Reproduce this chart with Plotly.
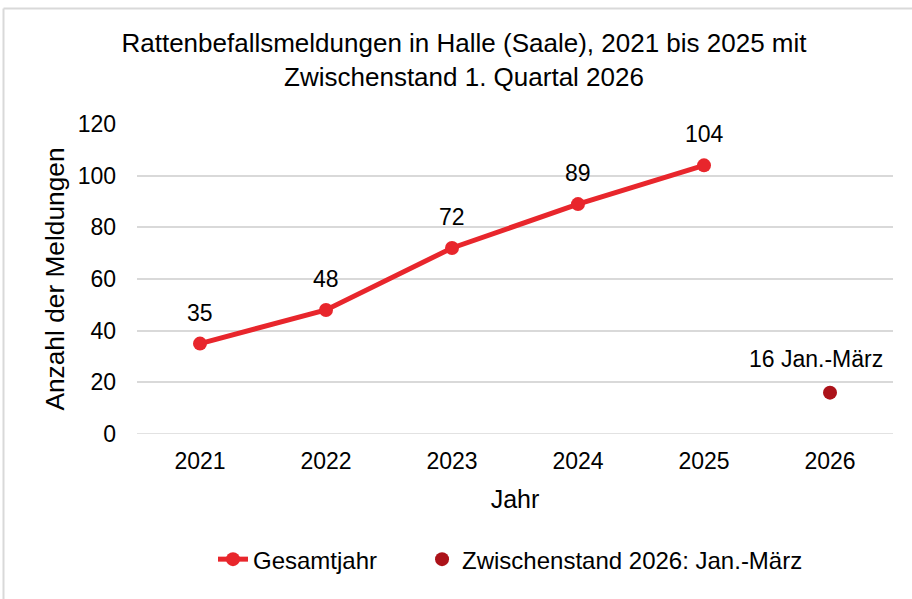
import plotly.graph_objects as go

years = ["2021", "2022", "2023", "2024", "2025"]
values = [35, 48, 72, 89, 104]
interim_year = ["2026"]
interim_value = [16]
interim_label = "Jan.-März"
all_years = ["2021", "2022", "2023", "2024", "2025", "2026"]
y_ticks = [0, 20, 40, 60, 80, 100, 120]

FONT = "Liberation Sans, Arial, sans-serif"
RED = "#E8262C"
DARK = "#AC1219"
LABEL_SIZE = 23
NBSP = "\u00a0"

fig = go.Figure()
fig.add_trace(go.Scatter(
    x=years, y=values, mode="lines+markers", name="Gesamtjahr" + NBSP * 6,
    line=dict(color=RED, width=5), marker=dict(color=RED, size=14),
    cliponaxis=False,
))
fig.add_trace(go.Scatter(
    x=interim_year, y=interim_value, mode="markers",
    name="Zwischenstand 2026: Jan.-März",
    marker=dict(color=DARK, size=14), cliponaxis=False,
))
for yr, v in zip(years, values):
    fig.add_annotation(x=all_years.index(yr), y=v, xref="x", yref="y", text=str(v),
                       showarrow=False, yshift=31,
                       font=dict(family=FONT, size=LABEL_SIZE, color="#000000"))
for yr, v in zip(interim_year, interim_value):
    fig.add_annotation(x=all_years.index(yr), y=v, xref="x", yref="y",
                       text=f"{v} {interim_label}", showarrow=False,
                       xshift=-14, yshift=34,
                       font=dict(family=FONT, size=LABEL_SIZE, color="#000000"))

L, R, T, B = 137, 19, 124, 165
W, H = 912, 599
pw, ph = W - L - R, H - T - B
# outer chart border (light grey), top and left edges visible
fig.add_shape(type="line", xref="paper", yref="paper",
              x0=(3.5 - L) / pw, x1=(3.5 - L) / pw, y0=-(H - T - ph + 10) / ph, y1=1 + (T - 8.5) / ph,
              line=dict(color="#D9D9D9", width=2))
fig.add_shape(type="line", xref="paper", yref="paper",
              x0=(3.5 - L) / pw, x1=(W + 10 - L) / pw, y0=1 + (T - 8.5) / ph, y1=1 + (T - 8.5) / ph,
              line=dict(color="#D9D9D9", width=2))

fig.update_layout(
    width=W, height=H,
    margin=dict(l=L, r=R, t=T, b=B, autoexpand=False),
    paper_bgcolor="white", plot_bgcolor="white",
    font=dict(family=FONT, color="#000000"),
    title=dict(text="Rattenbefallsmeldungen in Halle (Saale), 2021 bis 2025 mit<br>Zwischenstand 1. Quartal 2026",
               x=464 / 912, xref="container", xanchor="center", y=0.913, yanchor="top",
               font=dict(family=FONT, size=26, color="#000000")),
    xaxis=dict(categoryorder="array", categoryarray=all_years, type="category",
               tickvals=all_years, range=[-0.5, 5.5], showgrid=False, zeroline=False,
               showline=False, ticks="", tickfont=dict(size=23), ticklabelstandoff=11,
               automargin=False,
               title=dict(text="Jahr", font=dict(size=25), standoff=17)),
    yaxis=dict(range=[0, 120], tickvals=y_ticks, showgrid=True, gridcolor="#D9D9D9",
               gridwidth=1.5, zeroline=False, showline=False, ticks="",
               tickfont=dict(size=23), ticklabelstandoff=20, automargin=False,
               title=dict(text="Anzahl der Meldungen", font=dict(size=26.3), standoff=5)),
    legend=dict(orientation="h", x=0.1005, xanchor="left", y=-0.405, yanchor="middle",
                font=dict(size=24), tracegroupgap=0),
    showlegend=True,
)
fig.add_hline(y=0, line=dict(color="#D9D9D9", width=1.5), layer="below")

fig.write_html("out.html", config={"displayModeBar": False},
               post_script="document.body.style.margin='0px';")
